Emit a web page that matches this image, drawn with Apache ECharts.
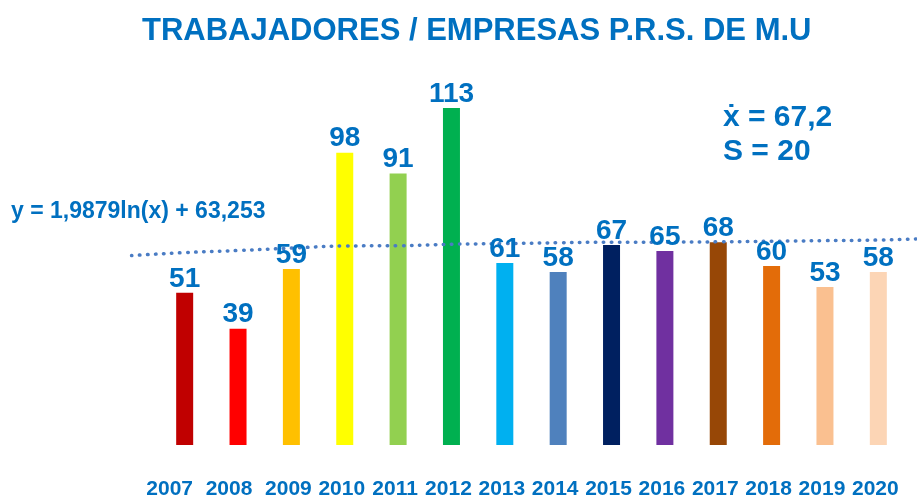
<!DOCTYPE html>
<html>
<head>
<meta charset="utf-8">
<title>Trabajadores / Empresas</title>
<script src="https://cdn.jsdelivr.net/npm/echarts@6/dist/echarts.min.js"></script>
<style>
	html, body { margin: 0; padding: 0; background: #fff; }
	#chart { width: 917px; height: 501px; }
</style>
</head>
<body>
<div id="chart"></div>
<script>
	'use strict';

	var years = ['2007', '2008', '2009', '2010', '2011', '2012', '2013', '2014', '2015', '2016', '2017', '2018', '2019', '2020'];
	var workers = [51, 39, 59, 98, 91, 113, 61, 58, 67, 65, 68, 60, 53, 58];
	var barColors = ['#C00000', '#FF0000', '#FFC000', '#FFFF00', '#92D050', '#00B050', '#00B0F0',
		'#4F81BD', '#002060', '#7030A0', '#974706', '#E36C09', '#FAC090', '#FCD5B5'];
	// trend line (x = period number, 1 = 2007)
	var trendX = [0, 1, 2, 3, 4, 5, 6, 7, 8, 9, 10, 11, 12, 13, 14, 14.72];
	var trendY = [63.5, 64.5, 65.2, 66.0, 66.7, 66.8, 67.3, 67.5, 67.8, 68.0, 68.0, 68.1, 68.3, 68.5, 68.7, 69.1];

	var blue = '#0070C0';
	var font = 'Liberation Sans, Arial, sans-serif';

	var chart = echarts.init(document.getElementById('chart'));

	var option = {
		animation: false,
		grid: [{
			left: 158,
			right: 12,
			top: 87,
			bottom: 56
		}, {
			// same scale as the bars, wider so the trend can run past them
			left: 131.6,
			right: 0,
			top: 87,
			bottom: 56
		}],
		xAxis: [{
			type: 'category',
			gridIndex: 0,
			data: years,
			axisLine: { show: false },
			axisTick: { show: false },
			axisLabel: {
				interval: 0,
				margin: 34,
				formatter: function(value, idx) {
					if (idx === 0) return '{a|' + value + '}';
					if (idx === 1) return '{b|' + value + '}';
					return '{c|' + value + '}';
				},
				rich: {
					a: { color: blue, fontWeight: 'bold', fontSize: 21, fontFamily: font, padding: [0, 30, 0, 0] },
					b: { color: blue, fontWeight: 'bold', fontSize: 21, fontFamily: font, padding: [0, 18, 0, 0] },
					c: { color: blue, fontWeight: 'bold', fontSize: 21, fontFamily: font, padding: [0, 6, 0, 0] }
				}
			}
		}, {
			type: 'value',
			gridIndex: 1,
			min: 0,
			max: 14.72,
			show: false
		}],
		yAxis: [{
			type: 'value',
			gridIndex: 0,
			min: 0,
			max: 120,
			show: false
		}, {
			type: 'value',
			gridIndex: 1,
			min: 0,
			max: 120,
			show: false
		}],
		series: [{
			name: 'bars',
			type: 'bar',
			z: 1,
			barWidth: 17,
			data: workers.map(function(v, i) {
				return { value: v, itemStyle: { color: barColors[i] } };
			})
		}, {
			name: 'trend',
			type: 'line',
			xAxisIndex: 1,
			yAxisIndex: 1,
			z: 2,
			smooth: true,
			clip: false,
			symbol: 'none',
			lineStyle: {
				color: '#4A7CC4',
				width: 3.5,
				type: [0.5, 7.5],
				cap: 'round'
			},
			data: trendX.map(function(x, i) { return [x, trendY[i]]; })
		}, {
			name: 'labels',
			type: 'scatter',
			z: 3,
			symbolSize: 0,
			itemStyle: { opacity: 1 },
			data: workers,
			label: {
				show: true,
				position: 'top',
				distance: 0,
				color: blue,
				fontWeight: 'bold',
				fontSize: 28,
				fontFamily: font
			}
		}],
		graphic: [{
			type: 'text',
			left: 142,
			top: 16,
			style: {
				text: 'TRABAJADORES / EMPRESAS P.R.S. DE M.U',
				fill: blue,
				font: 'bold 31px ' + font
			}
		}, {
			type: 'text',
			left: 11,
			top: 200,
			style: {
				text: 'y = 1,9879ln(x) + 63,253',
				fill: blue,
				font: 'bold 23px ' + font
			}
		}, {
			type: 'text',
			left: 723,
			top: 101,
			style: {
				text: 'ẋ = 67,2\nS = 20',
				fill: blue,
				font: 'bold 30px ' + font,
				lineHeight: 34
			}
		}]
	};

	chart.setOption(option);
</script>
</body>
</html>
